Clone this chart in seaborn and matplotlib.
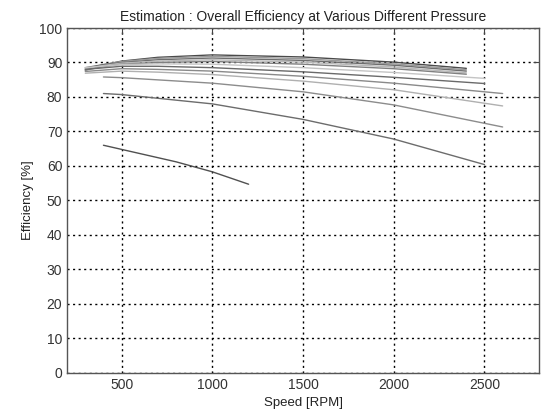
import numpy as np
import pandas as pd
import matplotlib
matplotlib.use("Agg")
import matplotlib.pyplot as plt
import seaborn as sns

# curves (speed in RPM, efficiency in %)
speed_top = [300, 400, 500, 700, 1000, 1500, 2000, 2400]
eff_t1 = [87.8, 89.3, 90.4, 91.5, 92.2, 91.6, 90.1, 88.3]
eff_t2 = [88.2, 89.4, 90.3, 91.2, 91.8, 91.1, 89.6, 87.9]
eff_t3 = [88.5, 89.4, 90.0, 90.8, 91.3, 90.6, 89.2, 87.5]
eff_t4 = [88.2, 89.1, 89.8, 90.4, 90.8, 90.1, 88.7, 87.0]
eff_t5 = [87.8, 88.8, 89.5, 90.0, 90.3, 89.5, 88.2, 86.6]

speed_l12 = [300, 500, 700, 1000, 1500, 2000, 2500]
eff_l1 = [88.5, 89.4, 89.6, 89.5, 88.5, 87.1, 85.4]
eff_l2 = [88.0, 88.9, 88.9, 88.5, 87.3, 85.7, 83.9]

speed_l34 = [300, 500, 700, 1000, 1500, 2000, 2600]
eff_l3 = [87.4, 88.2, 88.0, 87.5, 86.0, 84.0, 81.0]
eff_l4 = [86.9, 87.5, 87.2, 86.5, 84.6, 82.1, 77.4]

speed_l5 = [400, 500, 1000, 1500, 2000, 2600]
eff_l5 = [85.8, 85.6, 84.0, 81.5, 77.7, 71.3]

speed_b = [400, 500, 1000, 1500, 2000, 2500]
eff_b = [81.0, 80.7, 78.0, 73.5, 67.8, 60.4]

speed_a = [400, 600, 800, 1000, 1200]
eff_a = [66.0, 63.6, 61.2, 58.3, 54.7]

curves = [
    ("t1", speed_top, eff_t1, "#4a4a4a"),
    ("t2", speed_top, eff_t2, "#9a9a9a"),
    ("t3", speed_top, eff_t3, "#6e6e6e"),
    ("t4", speed_top, eff_t4, "#b8b8b8"),
    ("t5", speed_top, eff_t5, "#808080"),
    ("l1", speed_l12, eff_l1, "#c4c4c4"),
    ("l2", speed_l12, eff_l2, "#6a6a6a"),
    ("l3", speed_l34, eff_l3, "#8a8a8a"),
    ("l4", speed_l34, eff_l4, "#b0b0b0"),
    ("l5", speed_l5, eff_l5, "#8c8c8c"),
    ("b", speed_b, eff_b, "#6c6c6c"),
    ("a", speed_a, eff_a, "#505050"),
]

rows = []
for name, xs, ys, _ in curves:
    for x, y in zip(xs, ys):
        rows.append({"curve": name, "speed": x, "eff": y})
df = pd.DataFrame(rows)
palette = {name: c for name, _, _, c in curves}

sns.set_style("white")
plt.rcParams["font.family"] = ["Liberation Sans", "DejaVu Sans"]

fig = plt.figure(figsize=(5.46, 4.18), dpi=100)
ax = fig.add_axes([0.123, 0.108, 0.864, 0.825])

sns.lineplot(data=df, x="speed", y="eff", hue="curve", palette=palette,
             linewidth=1.0, legend=False, ax=ax, sort=True, estimator=None)

ax.set_xlim(200, 2800)
ax.set_ylim(0, 100)
ax.set_xticks([500, 1000, 1500, 2000, 2500])
ax.set_yticks(np.arange(0, 101, 10))
ax.grid(True, color="black", linestyle=(0, (1.5, 2.5)), linewidth=1.0)
ax.set_axisbelow(True)

ax.tick_params(direction="in", top=True, right=True, length=4, width=0.8,
               colors="#444444", labelsize=10, labelcolor="#333333")
for sp in ax.spines.values():
    sp.set_color("#555555")
    sp.set_linewidth(1.0)

ax.set_title("Estimation : Overall Efficiency at Various Different Pressure",
             fontsize=10, color="#222222", pad=5)
ax.set_xlabel("Speed [RPM]", fontsize=9.5, color="#222222")
ax.set_ylabel("Efficiency [%]", fontsize=9.5, color="#222222")

fig.savefig("out.png", dpi=100)
